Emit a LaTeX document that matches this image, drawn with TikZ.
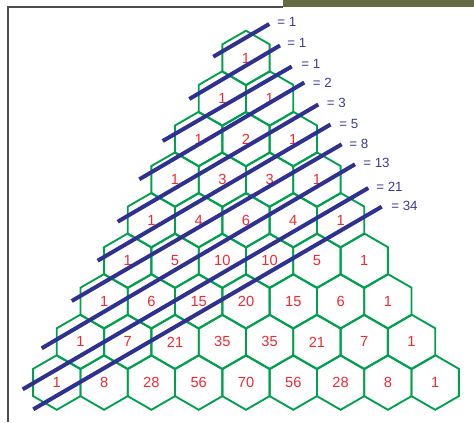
\documentclass[tikz,border=0pt]{standalone}
\usepackage{fontspec}
\setmainfont{Liberation Sans}
\definecolor{hexg}{HTML}{00A04E}
\definecolor{numr}{HTML}{EE2A35}
\definecolor{navy}{HTML}{2E3192}
\definecolor{labc}{HTML}{3C3C96}
\definecolor{olivebar}{HTML}{646B44}
\begin{document}
\begin{tikzpicture}[x=0.75pt,y=-0.75pt,
  hexcell/.style={draw=hexg,line width=1.4pt,line join=miter},
  num/.style={text=numr,font=\fontsize{11}{13}\selectfont,inner sep=0pt},
  diag/.style={draw=navy,line width=3pt},
  eqlab/.style={text=labc,font=\fontsize{10}{12}\selectfont,anchor=west,inner sep=0pt}]
\useasboundingbox (0,0) rectangle (474,422);
% frame
\fill[olivebar] (283,0) rectangle (474,7);
\draw[black!70,line width=0.9pt] (8,422) -- (8,7) -- (283,7);
% hexagons and numbers
\foreach \r/\vals in {0/{1},1/{1,1},2/{1,2,1},3/{1,3,3,1},4/{1,4,6,4,1},
   5/{1,5,10,10,5,1},6/{1,6,15,20,15,6,1},7/{1,7,21,35,35,21,7,1},
   8/{1,8,28,56,70,56,28,8,1}}{
  \foreach \v [count=\k from 0] in \vals {
    \pgfmathsetmacro\cx{246+(\k-\r/2)*47.3}
    \pgfmathsetmacro\cy{58+\r*40.56}
    \draw[hexcell] (\cx,\cy-27.3) -- (\cx+23.65,\cy-13.65) -- (\cx+23.65,\cy+13.65)
      -- (\cx,\cy+27.3) -- (\cx-23.65,\cy+13.65) -- (\cx-23.65,\cy-13.65) -- cycle;
    \node[num] (n-\r-\k) at (\cx,\cy) {\v};
  }
}
% diagonals and sums
\foreach \i/\xa/\ya/\xb/\yb/\lx/\ly/\t in {
  1/213.3/56.7/269.3/24/277/22/1,
  2/189.3/99/280/45.5/287/43/1,
  3/162.7/141/291.7/66.5/301/64/1,
  4/139.3/179.3/304.3/82.5/312.7/83/2,
  5/117.7/221.7/318.3/104.5/326.7/103/3,
  6/97.7/260.7/330.5/124.5/339/124/5,
  7/71.7/301/341.7/144.3/349/144/8,
  8/41.7/348.3/355/164.3/363/163/13,
  9/22.7/389.3/368.3/188/376/186.7/21,
  10/33.3/409.3/381.7/206.7/391/206/34}{
  \coordinate (a\i) at (\xa,\ya);
  \coordinate (b\i) at (\xb,\yb);
  \draw[diag] (a\i) -- (b\i);
  \node[eqlab] (s\i) at (\lx,\ly) {= \t};
}
\end{tikzpicture}
\end{document}
